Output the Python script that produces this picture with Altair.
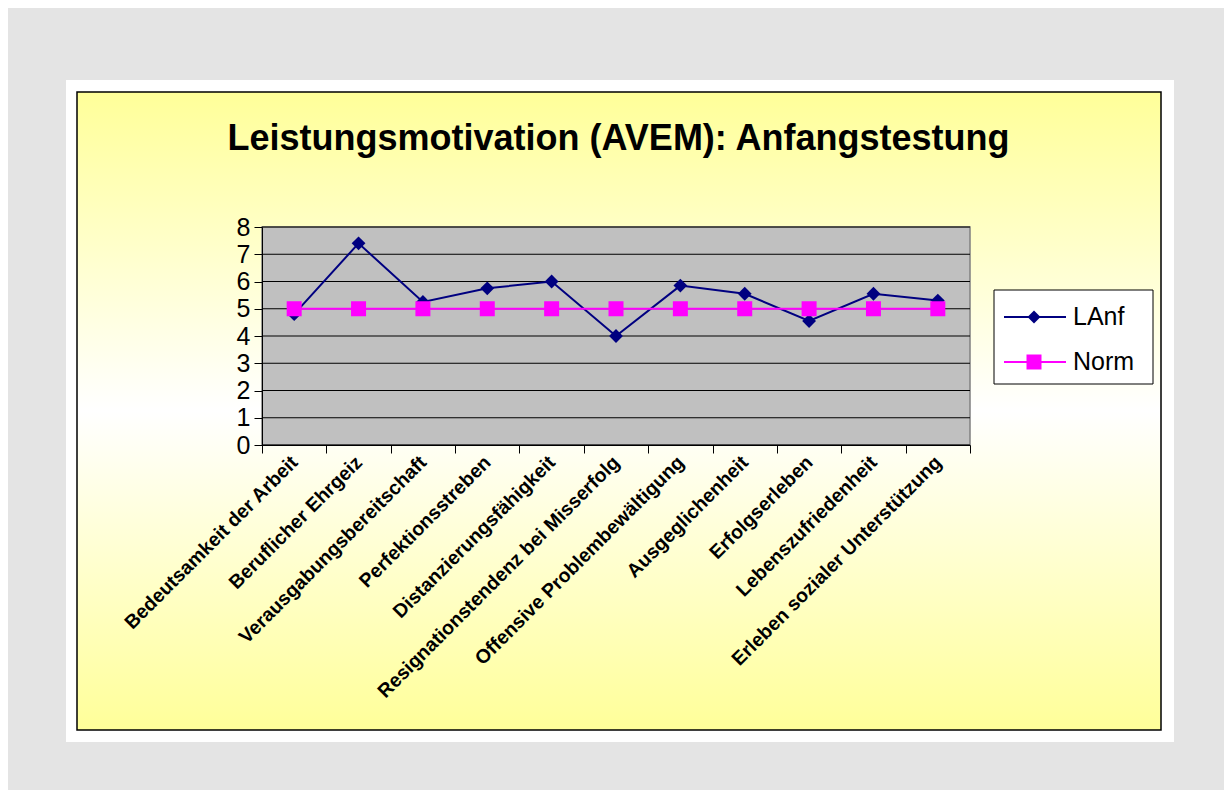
import altair as alt
import pandas as pd

TITLE = "Leistungsmotivation (AVEM): Anfangstestung"
categories = [
    "Bedeutsamkeit der Arbeit",
    "Beruflicher Ehrgeiz",
    "Verausgabungsbereitschaft",
    "Perfektionsstreben",
    "Distanzierungsfähigkeit",
    "Resignationstendenz bei Misserfolg",
    "Offensive Problembewältigung",
    "Ausgeglichenheit",
    "Erfolgserleben",
    "Lebenszufriedenheit",
    "Erleben sozialer Unterstützung",
]
lanf = [4.8, 7.4, 5.25, 5.75, 6.0, 4.0, 5.85, 5.55, 4.55, 5.55, 5.3]
norm = [5, 5, 5, 5, 5, 5, 5, 5, 5, 5, 5]
series_names = ["LAnf", "Norm"]
series_colors = ["#000080", "#ff00ff"]
series_shapes = ["diamond", "square"]
y_ticks = [0, 1, 2, 3, 4, 5, 6, 7, 8]

FONT = "Liberation Sans"
W, H = 708, 218
PAD = {"left": 254, "top": 219, "right": 254, "bottom": 345}

rows = []
for name, vals in zip(series_names, [lanf, norm]):
    for c, v in zip(categories, vals):
        rows.append({"cat": c, "value": v, "series": name})
df = pd.DataFrame(rows)
one = pd.DataFrame({"k": [0]})
grid_df = pd.DataFrame({"v": y_ticks})

x_enc = alt.X(
    "cat:N",
    sort=categories,
    scale=alt.Scale(type="band", paddingInner=0, paddingOuter=0),
    axis=alt.Axis(
        title=None, tickBand="extent", labelAngle=-45, labelAlign="right",
        labelBaseline="middle", labelFontSize=19.5, labelFont=FONT,
        labelFontWeight="bold",
        labelColor="black", tickColor="black", tickSize=8, domainColor="black",
        domainWidth=1, labelPadding=6, zindex=1, labelLimit=0, labelOverlap=False,
    ),
)
y_axis = alt.Axis(
    values=y_ticks, title=None, grid=False, labelFontSize=25, labelFont=FONT,
    labelColor="black", tickColor="black", tickSize=8, domainColor="black",
    labelPadding=4, zindex=1, format="d",
)
y_scale = alt.Scale(domain=[0, 8], nice=False, zero=True)

# Decorative panels
white_panel = alt.Chart(one).mark_rect(fill="white").encode(
    x=alt.value(-196), x2=alt.value(912), y=alt.value(-147), y2=alt.value(515)
)
yellow_panel = alt.Chart(one).mark_rect(
    fill=alt.Gradient(
        gradient="linear",
        stops=[
            alt.GradientStop(color="#ffff99", offset=0),
            alt.GradientStop(color="#ffffff", offset=0.5),
            alt.GradientStop(color="#ffff99", offset=1),
        ],
        x1=0, x2=0, y1=0, y2=1,
    ),
    stroke="black", strokeWidth=1.5,
).encode(x=alt.value(-185), x2=alt.value(899), y=alt.value(-135), y2=alt.value(503))

plot_bg = alt.Chart(one).mark_rect(fill="#c0c0c0", stroke="#808080", strokeWidth=1.5).encode(
    x=alt.value(0), x2=alt.value(W), y=alt.value(0), y2=alt.value(H)
)

grid = alt.Chart(grid_df).mark_rule(color="black", strokeWidth=1).encode(
    y=alt.Y("v:Q", scale=y_scale, axis=y_axis)
)

layers = [white_panel, yellow_panel, plot_bg, grid]
for name, color, shape, size in zip(series_names, series_colors, series_shapes, [190, 225]):
    base = alt.Chart(df).transform_filter(alt.datum.series == name)
    line = base.mark_line(color=color, strokeWidth=2).encode(
        x=x_enc, y=alt.Y("value:Q", scale=y_scale, axis=y_axis)
    )
    pts = base.mark_point(filled=True, color=color, shape=shape, size=size, opacity=1).encode(
        x=x_enc, y=alt.Y("value:Q", scale=y_scale, axis=y_axis)
    )
    layers += [line, pts]

# Legend (manual, Excel style)
legend_box = alt.Chart(one).mark_rect(fill="white", stroke="black", strokeWidth=1).encode(
    x=alt.value(732), x2=alt.value(891), y=alt.value(63), y2=alt.value(157)
)
layers.append(legend_box)
for i, (name, color, shape, size) in enumerate(zip(series_names, series_colors, series_shapes, [170, 225])):
    ly = 90 + 45 * i
    layers.append(
        alt.Chart(one).mark_rule(color=color, strokeWidth=2).encode(
            x=alt.value(742), x2=alt.value(804), y=alt.value(ly)
        )
    )
    layers.append(
        alt.Chart(one).mark_point(filled=True, color=color, shape=shape, size=size, opacity=1).encode(
            x=alt.value(772), y=alt.value(ly)
        )
    )
    layers.append(
        alt.Chart(one).mark_text(
            text=name, font=FONT, fontSize=25, align="left", baseline="middle", color="black"
        ).encode(x=alt.value(811), y=alt.value(ly))
    )

title = alt.Chart(one).mark_text(
    text=TITLE, font=FONT, fontSize=36, fontWeight="bold", align="center",
    baseline="alphabetic", color="black",
).encode(x=alt.value(356.5), y=alt.value(-77))
layers.append(title)

chart = alt.layer(*layers).properties(
    width=W, height=H, background="#e4e4e4",
    autosize=alt.AutoSizeParams(type="none"), padding=PAD,
).configure_view(stroke=None)

chart.save("out.html", embed_options={"renderer": "svg", "actions": False})
